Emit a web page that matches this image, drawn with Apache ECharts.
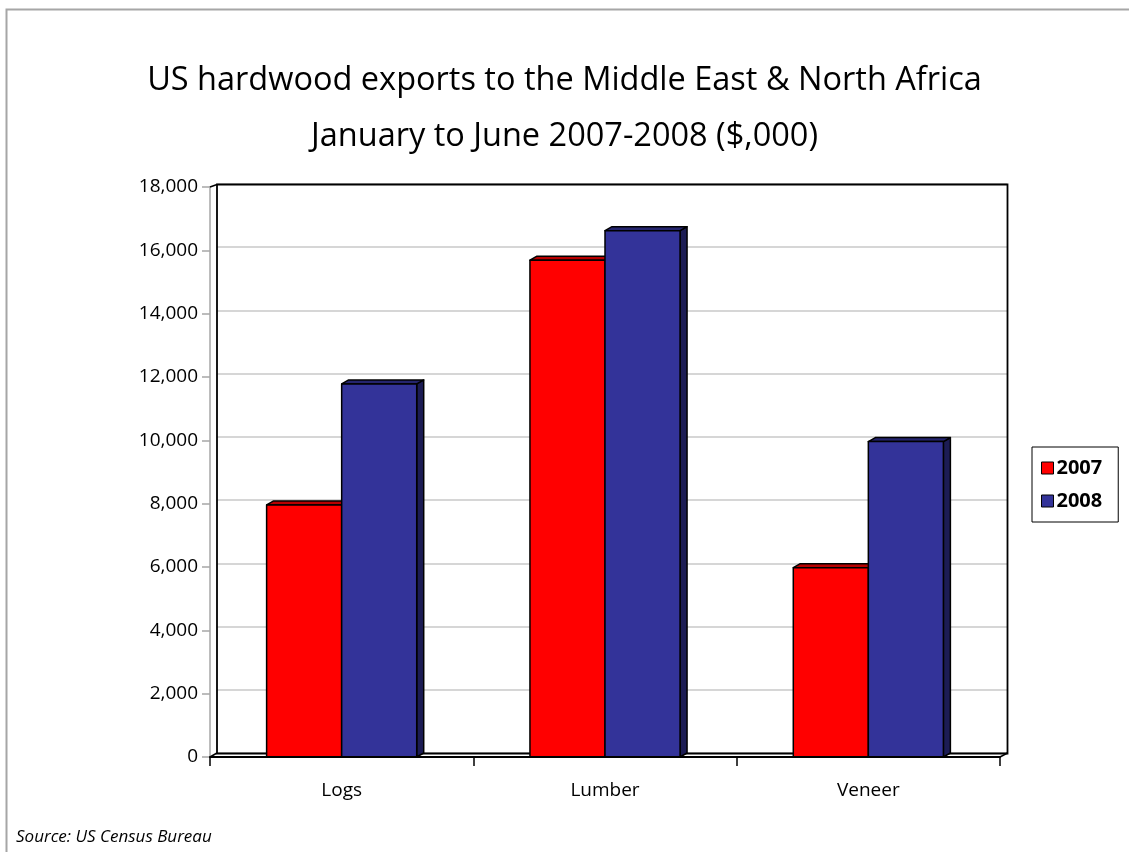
<!DOCTYPE html>
<html>
<head>
<meta charset="utf-8">
<script src="https://cdn.jsdelivr.net/npm/echarts@6/dist/echarts.min.js"></script>
<style>html,body{margin:0;padding:0;background:#fff}#c{width:1129px;height:852px}</style>
</head>
<body>
<div id="c"></div>
<script>
var categories = ['Logs', 'Lumber', 'Veneer'];
var seriesNames = ['2007', '2008'];
var values2007 = [7960, 15690, 5980];
var values2008 = [11780, 16620, 9960];
var yTicks = [0, 2000, 4000, 6000, 8000, 10000, 12000, 14000, 16000, 18000];

var FONT = '"Open Sans", sans-serif';
var DX = 7, DY = 4;

function shade(hex, f) {
  var n = parseInt(hex.slice(1), 16);
  var r = Math.round(((n >> 16) & 255) * f), g = Math.round(((n >> 8) & 255) * f), b = Math.round((n & 255) * f);
  return 'rgb(' + r + ',' + g + ',' + b + ')';
}

function makeRender(offsetIndex, color) {
  return function (params, api) {
    var cat = api.value(0), val = api.value(1);
    var top = api.coord([cat, val]);
    var base = api.coord([cat, 0]);
    var band = api.size([1, 0])[0];
    var w = band * 0.285;
    var x0 = offsetIndex === 0 ? top[0] - w : top[0];
    var x1 = x0 + w;
    var yt = top[1], yb = base[1];
    var stroke = {stroke: '#000', lineWidth: 1.5, lineJoin: 'round'};
    return {
      type: 'group',
      children: [
        {type: 'polygon', shape: {points: [[x1, yt], [x1 + DX, yt - DY], [x1 + DX, yb - DY], [x1, yb]]},
          style: Object.assign({fill: shade(color, 0.55)}, stroke)},
        {type: 'polygon', shape: {points: [[x0, yt], [x1, yt], [x1 + DX, yt - DY], [x0 + DX, yt - DY]]},
          style: Object.assign({fill: shade(color, 0.72)}, stroke)},
        {type: 'rect', shape: {x: x0, y: yt, width: w, height: yb - yt},
          style: Object.assign({fill: color}, stroke)}
      ]
    };
  };
}

var colors = ['#FF0000', '#333399'];
var chart = echarts.init(document.getElementById('c'), null, {renderer: 'canvas'});
chart.setOption({
  backgroundColor: '#fff',
  animation: false,
  title: {
    text: 'US hardwood exports to the Middle East & North Africa\nJanuary to June 2007-2008 ($,000)',
    left: 'center', top: 48,
    textStyle: {fontFamily: FONT, fontSize: 32.5, fontWeight: 'normal', color: '#000', lineHeight: 56}
  },
  legend: {
    data: seriesNames, orient: 'vertical', left: 1032, top: 447,
    padding: [11, 16, 11, 9], itemGap: 13, itemWidth: 12, itemHeight: 12,
    borderColor: '#000', borderWidth: 1, icon: 'rect',
    itemStyle: {borderColor: '#000', borderWidth: 1},
    textStyle: {fontFamily: FONT, fontSize: 20, fontWeight: 'bold', color: '#000', padding: [0, 0, 0, -2]}
  },
  grid: [
    {left: 210, top: 187, width: 790, height: 570, containLabel: false},
    {left: 217, top: 184, width: 790, height: 569, show: false}
  ],
  xAxis: [
    {type: 'category', gridIndex: 0, data: categories, boundaryGap: true,
      axisLine: {lineStyle: {color: '#000', width: 2}},
      axisTick: {show: true, length: 9, lineStyle: {color: '#000', width: 1.5}},
      axisLabel: {fontFamily: FONT, fontSize: 19, color: '#000', margin: 24},
      z: 5},
    {type: 'category', gridIndex: 1, data: categories, show: false}
  ],
  yAxis: [
    {type: 'value', gridIndex: 0, min: 0, max: 18000, interval: 2000,
      axisLine: {show: true, lineStyle: {color: '#A6A6A6', width: 1.5}},
      axisTick: {show: true, length: 8, lineStyle: {color: '#A6A6A6', width: 1.5}},
      splitLine: {show: false},
      axisLabel: {fontFamily: FONT, fontSize: 19, color: '#000', margin: 12,
        formatter: function (v) { return yTicks.indexOf(v) >= 0 ? v.toLocaleString('en-US') : ''; }}},
    {type: 'value', gridIndex: 1, min: 0, max: 18000, interval: 2000,
      axisLine: {show: false}, axisTick: {show: false}, axisLabel: {show: false},
      splitLine: {show: true, lineStyle: {color: '#C8C8C8', width: 1.5}}}
  ],
  series: [
    {name: seriesNames[0], type: 'custom', xAxisIndex: 0, yAxisIndex: 0, itemStyle: {color: colors[0]},
      data: values2007.map(function (v, i) { return [i, v]; }), encode: {x: 0, y: 1},
      renderItem: makeRender(0, colors[0]), z: 3},
    {name: seriesNames[1], type: 'custom', xAxisIndex: 0, yAxisIndex: 0, itemStyle: {color: colors[1]},
      data: values2008.map(function (v, i) { return [i, v]; }), encode: {x: 0, y: 1},
      renderItem: makeRender(1, colors[1]), z: 4}
  ],
  graphic: [
    {type: 'rect', shape: {x: 6.5, y: 9.5, width: 1300, height: 1000}, style: {fill: 'none', stroke: '#A6A6A6', lineWidth: 2}, z: 100, silent: true},
    {type: 'rect', shape: {x: 217, y: 184.5, width: 790.5, height: 569}, style: {fill: 'none', stroke: '#000', lineWidth: 1.8}, z: 1, silent: true},
    {type: 'line', shape: {x1: 210, y1: 757, x2: 217, y2: 753}, style: {stroke: '#000', lineWidth: 1.5}, z: 10},
    {type: 'line', shape: {x1: 1000, y1: 757, x2: 1007.5, y2: 753}, style: {stroke: '#000', lineWidth: 1.5}, z: 10},
    {type: 'line', shape: {x1: 210, y1: 187, x2: 217, y2: 184.5}, style: {stroke: '#000', lineWidth: 1.5}, z: 10},
    {type: 'text', left: 16, top: 829, style: {text: 'Source: US Census Bureau', font: 'italic 17px "Open Sans", sans-serif', fill: '#000'}}
  ]
});
</script>
</body>
</html>
